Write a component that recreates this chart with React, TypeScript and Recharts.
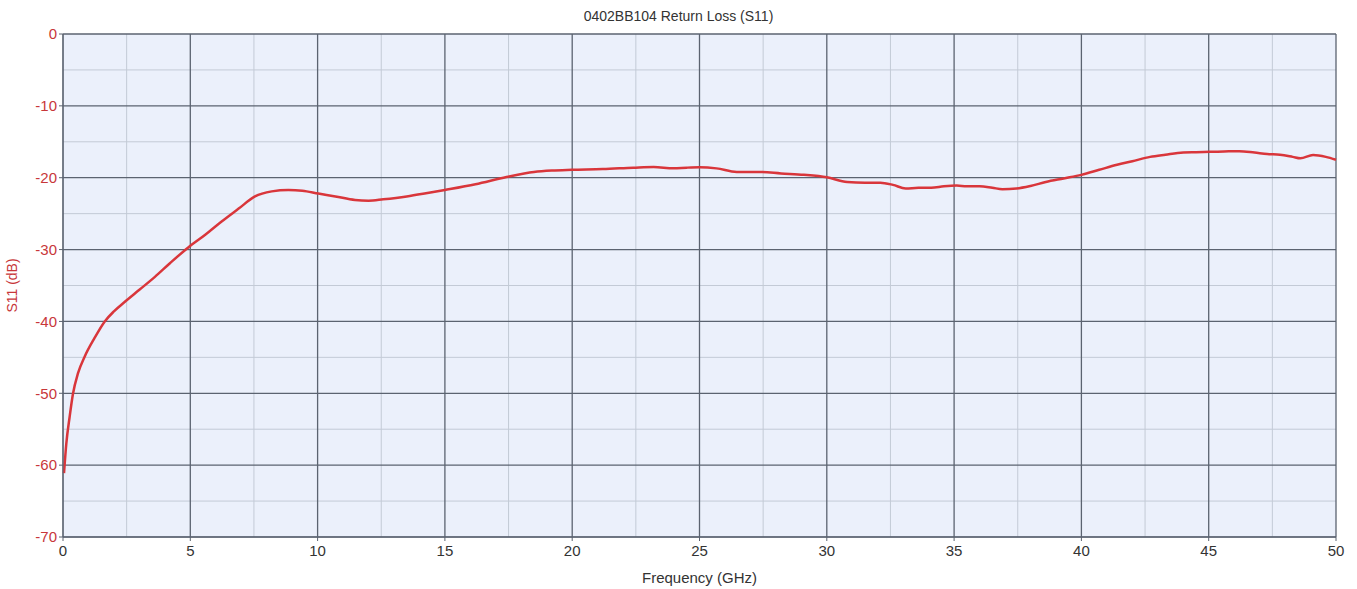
import { LineChart, Line, XAxis, YAxis, CartesianGrid, Label } from 'recharts'

const freqGHz = [
  0.04, 0.13, 0.26, 0.39, 0.59, 0.85, 1.24, 1.64, 2.0, 2.42, 3.0, 3.61, 4.2, 4.92, 5.6,
  6.23, 6.9, 7.54, 8.2, 8.85, 9.4, 10.03, 10.7, 11.47, 12.0, 12.58, 13.5, 14.2, 15.0, 16.2,
  17.42, 18.5, 19.2, 20.0, 21.2, 22.4, 23.2, 23.98, 24.5, 25.0, 25.67, 26.46, 27.4, 28.2,
  29.1, 30.0, 30.8, 31.5, 32.1, 32.6, 33.1, 33.6, 34.1, 34.6, 35.1, 35.5, 36.0, 36.5, 36.9,
  37.45, 38.0, 38.6, 39.3, 40.0, 40.7, 41.4, 42.0, 42.7, 43.3, 44.0, 44.5, 45.05, 45.6,
  46.2, 46.8, 47.3, 47.8, 48.3, 48.6, 49.1, 49.6, 50.0,
]
const s11dB = [
  -61.1, -57.0, -53.3, -50.1, -47.2, -44.9, -42.3, -40.0, -38.6, -37.3, -35.6, -33.8,
  -31.9, -29.7, -27.9, -26.1, -24.3, -22.6, -21.9, -21.7, -21.8, -22.2, -22.6, -23.1, -23.2,
  -23.0, -22.6, -22.2, -21.7, -20.9, -19.9, -19.2, -19.0, -18.9, -18.8, -18.6, -18.5, -18.7,
  -18.6, -18.55, -18.7, -19.2, -19.2, -19.4, -19.6, -19.95, -20.6, -20.7, -20.7, -21.0,
  -21.5, -21.4, -21.4, -21.2, -21.1, -21.2, -21.2, -21.4, -21.6, -21.5, -21.15, -20.6,
  -20.1, -19.6, -18.9, -18.2, -17.7, -17.1, -16.8, -16.5, -16.45, -16.4, -16.35, -16.3,
  -16.5, -16.7, -16.8, -17.1, -17.3, -16.85, -17.1, -17.5,
]

const freqTicks = [0, 5, 10, 15, 20, 25, 30, 35, 40, 45, 50]
const freqMinor = [2.5, 7.5, 12.5, 17.5, 22.5, 27.5, 32.5, 37.5, 42.5, 47.5]
const dbTicks = [-70, -60, -50, -40, -30, -20, -10, 0]
const dbMinor = [-65, -55, -45, -35, -25, -15, -5]

const data = freqGHz.map((f, i) => ({ f, s11: s11dB[i] }))

const FONT = '"Liberation Sans", Arial, sans-serif'
const RED = '#c8373a'

export default function App() {
  return (
    <div style={{ position: 'absolute', left: 0, top: 0, width: 1357, height: 589, background: '#fff', fontFamily: FONT }}>
      <div style={{ position: 'absolute', left: 0, width: 1357, top: 8, textAlign: 'center', fontSize: 14, color: '#333' }}>
        0402BB104 Return Loss (S11)
      </div>
      <LineChart width={1357} height={589} data={data} margin={{ top: 34, right: 21, bottom: 0, left: 0 }}>
        <CartesianGrid
          fill="#ebf0fb"
          stroke="#c3cad6"
          strokeWidth={1}
          horizontalValues={dbMinor}
          verticalValues={freqMinor}
        />
        <CartesianGrid
          stroke="#5b6370"
          strokeWidth={1.3}
          horizontalValues={dbTicks}
          verticalValues={freqTicks}
        />
        <XAxis
          dataKey="f"
          type="number"
          domain={[0, 50]}
          ticks={freqTicks}
          height={52}
          stroke="#5b6370"
          tickSize={4}
          tickMargin={4}
          tick={{ fill: '#333', fontSize: 15, fontFamily: FONT }}
        >
          <Label value="Frequency (GHz)" position="insideBottom" offset={6} fill="#333" fontSize={15} fontFamily={FONT} />
        </XAxis>
        <YAxis
          type="number"
          domain={[-70, 0]}
          ticks={dbTicks}
          width={63}
          stroke="#5b6370"
          tickSize={4}
          tick={{ fill: RED, fontSize: 15, fontFamily: FONT }}
        >
          <Label value="S11 (dB)" angle={-90} position="insideLeft" offset={12} fill={RED} fontSize={14} fontFamily={FONT} style={{ textAnchor: 'middle' }} />
        </YAxis>
        <Line
          dataKey="s11"
          type="monotone"
          stroke="#d9363b"
          strokeWidth={2.5}
          dot={false}
          isAnimationActive={false}
        />
      </LineChart>
    </div>
  )
}
